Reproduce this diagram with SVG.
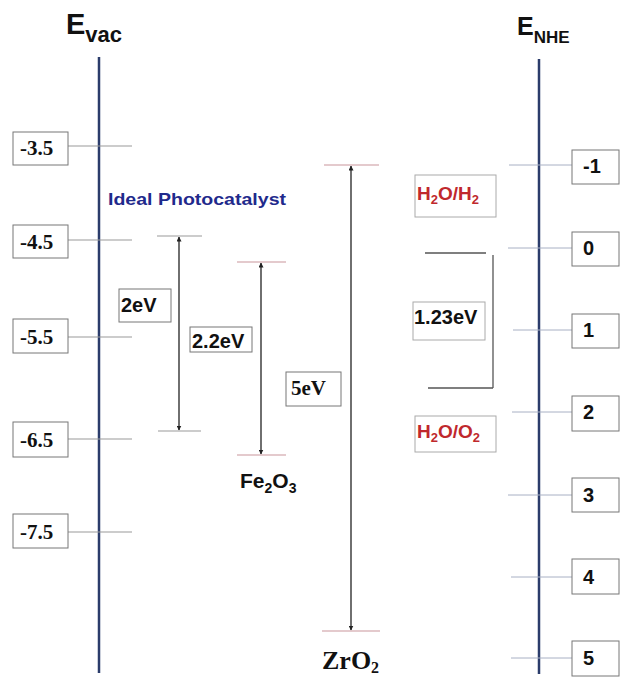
<svg xmlns="http://www.w3.org/2000/svg" width="621" height="680" viewBox="0 0 621 680">
<style>
.axis{stroke:#2b3c6b;stroke-width:2.5;fill:none}
.tick{stroke:#999;stroke-width:1;fill:none}
.rtick{stroke:#a8b0c4;stroke-width:1;fill:none}
.band{stroke:#999;stroke-width:1.2;fill:none}
.bandr{stroke:#c9969b;stroke-width:1.2;fill:none}
.arr{stroke:#222;stroke-width:1.3;fill:none;marker-start:url(#ah);marker-end:url(#ah)}
.br{stroke:#555;stroke-width:1.3;fill:none}
.box{fill:#fff;stroke:#777;stroke-width:1}
.lbox{fill:#fff;stroke:#aaa;stroke-width:1}
.tnum{font-family:"Liberation Serif",serif;font-weight:bold;font-size:21px;fill:#111}
.snum{font-family:"Liberation Sans",Arial,sans-serif;font-weight:bold;font-size:20px;fill:#111}
.red{font-family:"Liberation Sans",Arial,sans-serif;font-weight:bold;font-size:19px;fill:#c0282d}
</style>
<defs>
<marker id="ah" viewBox="0 0 10 10" refX="9" refY="5" markerWidth="5" markerHeight="5" orient="auto-start-reverse" markerUnits="userSpaceOnUse">
<path d="M0,0 L10,5 L0,10 z" fill="#222"/>
</marker>
</defs>

<g id="axes">
<line class="axis" x1="99" y1="57" x2="99" y2="673"/>
<line class="axis" x1="539" y1="59" x2="539" y2="674"/>
</g>

<g id="title-vac">
<text x="66" y="34" font-family="Liberation Sans,Arial,sans-serif" font-weight="bold" font-size="29" fill="#111">E<tspan font-size="22" dy="8">vac</tspan></text>
</g>
<g id="title-nhe">
<text x="517" y="35" font-family="Liberation Sans,Arial,sans-serif" font-weight="bold" font-size="25" fill="#111">E<tspan font-size="17" dy="8">NHE</tspan></text>
</g>

<g id="connectors">
<line class="tick" x1="68" y1="146" x2="132" y2="146"/>
<line class="tick" x1="68" y1="240" x2="132" y2="240"/>
<line class="tick" x1="68" y1="337" x2="132" y2="337"/>
<line class="tick" x1="68" y1="439" x2="132" y2="439"/>
<line class="tick" x1="68" y1="532" x2="132" y2="532"/>
<line class="rtick" x1="509" y1="165" x2="572" y2="165"/>
<line class="rtick" x1="508" y1="248" x2="572" y2="248"/>
<line class="rtick" x1="513" y1="330" x2="572" y2="330"/>
<line class="rtick" x1="512" y1="412" x2="572" y2="412"/>
<line class="rtick" x1="508" y1="495" x2="572" y2="495"/>
<line class="rtick" x1="511" y1="577" x2="572" y2="577"/>
<line class="rtick" x1="511" y1="658" x2="572" y2="658"/>
<line class="arr" x1="179" y1="237" x2="179" y2="430"/>
<line class="arr" x1="261" y1="263" x2="261" y2="454"/>
<line class="arr" x1="351" y1="166" x2="351" y2="630"/>
</g>

<g id="vac-35"><rect class="box" x="13" y="132" width="55" height="33"/><text class="tnum" x="20" y="155">-3.5</text></g>
<g id="vac-45"><rect class="box" x="13" y="225" width="55" height="33"/><text class="tnum" x="20" y="249">-4.5</text></g>
<g id="vac-55"><rect class="box" x="13" y="319" width="55" height="34"/><text class="tnum" x="20" y="344">-5.5</text></g>
<g id="vac-65"><rect class="box" x="13" y="422" width="55" height="35"/><text class="tnum" x="20" y="447">-6.5</text></g>
<g id="vac-75"><rect class="box" x="13" y="514" width="55" height="34"/><text class="tnum" x="20" y="539">-7.5</text></g>

<g id="nhe-m1"><rect class="box" x="572" y="150" width="47" height="34"/><text class="snum" x="583" y="173">-1</text></g>
<g id="nhe-0"><rect class="box" x="572" y="232" width="47" height="34"/><text class="snum" x="583" y="255">0</text></g>
<g id="nhe-1"><rect class="box" x="572" y="314" width="47" height="34"/><text class="snum" x="583" y="337">1</text></g>
<g id="nhe-2"><rect class="box" x="572" y="396" width="47" height="35"/><text class="snum" x="583" y="419">2</text></g>
<g id="nhe-3"><rect class="box" x="572" y="478" width="47" height="34"/><text class="snum" x="583" y="502">3</text></g>
<g id="nhe-4"><rect class="box" x="572" y="559" width="47" height="35"/><text class="snum" x="583" y="584">4</text></g>
<g id="nhe-5"><rect class="box" x="572" y="641" width="47" height="35"/><text class="snum" x="583" y="665">5</text></g>

<g id="ideal">
<text x="108" y="205" font-family="Liberation Sans,Arial,sans-serif" font-weight="bold" font-size="17" fill="#1f2a8c" textLength="178" lengthAdjust="spacingAndGlyphs">Ideal Photocatalyst</text>
<line class="band" x1="157" y1="236" x2="202" y2="236"/>
<line class="band" x1="158" y1="431" x2="201" y2="431"/>
<rect class="box" x="119" y="289" width="52" height="33"/>
<text class="snum" x="121" y="312">2eV</text>
</g>

<g id="fe2o3">
<line class="bandr" x1="237" y1="262" x2="286" y2="262"/>
<line class="bandr" x1="237" y1="455" x2="286" y2="455"/>
<rect class="box" x="190" y="327" width="62" height="25"/>
<text class="snum" x="192" y="348">2.2eV</text>
<text x="240" y="488" font-family="Liberation Sans,Arial,sans-serif" font-weight="bold" font-size="21" fill="#111">Fe<tspan font-size="14" dy="5">2</tspan><tspan dy="-5">O</tspan><tspan font-size="14" dy="5">3</tspan></text>
</g>

<g id="zro2">
<line class="bandr" x1="324" y1="165" x2="379" y2="165"/>
<line class="bandr" x1="322" y1="631" x2="380" y2="631"/>
<rect class="box" x="286" y="372" width="55" height="34"/>
<text class="tnum" x="291" y="395" font-size="20">5eV</text>
<text x="322" y="669" font-family="Liberation Serif,serif" font-weight="bold" font-size="26" fill="#111">ZrO<tspan font-size="16" dy="4">2</tspan></text>
</g>

<g id="h2o-h2">
<rect class="lbox" x="415" y="175" width="81" height="42"/>
<text class="red" x="417" y="200">H<tspan font-size="13" dy="4">2</tspan><tspan dy="-4">O/H</tspan><tspan font-size="13" dy="4">2</tspan></text>
</g>

<g id="water-gap">
<line class="br" x1="425" y1="253" x2="486" y2="253"/>
<line class="br" x1="493" y1="255" x2="493" y2="388"/>
<line class="br" x1="428" y1="388" x2="493" y2="388"/>
<rect class="lbox" x="413" y="302" width="72" height="38"/>
<text class="snum" x="414" y="324">1.23eV</text>
</g>

<g id="h2o-o2">
<rect class="lbox" x="415" y="416" width="81" height="36"/>
<text class="red" x="417" y="438">H<tspan font-size="13" dy="4">2</tspan><tspan dy="-4">O/O</tspan><tspan font-size="13" dy="4">2</tspan></text>
</g>
</svg>
